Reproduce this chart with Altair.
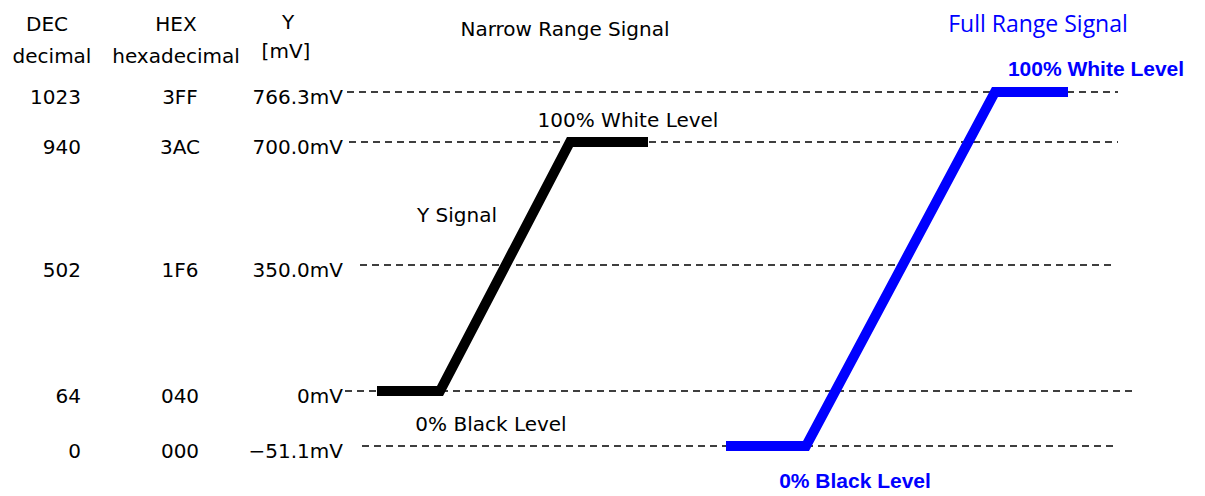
import altair as alt
import pandas as pd

# ---- data ----
level_mv = [766.3, 700.0, 350.0, 0.0, -51.1]
level_dec = ["1023", "940", "502", "64", "0"]
level_hex = ["3FF", "3AC", "1F6", "040", "000"]
level_lbl = ["766.3mV", "700.0mV", "350.0mV", "0mV", "\u221251.1mV"]
guide_start = [347, 349, 360, 345, 362]
guide_end = [1118, 1118, 1115, 1137, 1117]

narrow_t = [377, 440, 570, 648]
narrow_mv = [0.0, 0.0, 700.0, 700.0]
full_t = [726, 806, 995, 1068]
full_mv = [-51.1, -51.1, 766.3, 766.3]

BLUE = "#0000ff"
FONT = "DejaVu Sans"

# schematic (non-linear) vertical placement of the levels
yscale = alt.Scale(domain=[-51.1, 0, 350, 700, 766.3], range=[438, 383, 257, 134, 84])
xscale = alt.Scale(domain=[8, 1197], range=[0, 1189])

levels = pd.DataFrame({"mv": level_mv, "dec": level_dec, "hex": level_hex,
                       "lbl": level_lbl, "xs": guide_start, "xe": guide_end})
wave = pd.DataFrame({
    "t": narrow_t + full_t,
    "mv": narrow_mv + full_mv,
    "sig": ["narrow"] * 4 + ["full"] * 4,
    "i": list(range(4)) * 2,
})

X = lambda f: alt.X(f, type="quantitative", scale=xscale, axis=None)
Y = lambda f: alt.Y(f, type="quantitative", scale=yscale, axis=None)

guides = alt.Chart(levels).mark_rule(color="black", strokeWidth=1.3, strokeDash=[7, 5]).encode(
    x=X("xs"), x2="xe", y=Y("mv"))

lines = alt.Chart(wave).mark_line(strokeWidth=10, strokeCap="butt", strokeJoin="miter").encode(
    x=X("t"), y=Y("mv"), order="i:Q",
    detail="sig:N",
    color=alt.Color("sig:N", scale=alt.Scale(domain=["narrow", "full"], range=["black", BLUE]), legend=None))


def col(field, xval, align):
    d = levels.assign(xp=xval)
    return alt.Chart(d).mark_text(font=FONT, fontSize=20, align=align, baseline="middle", dy=6,
                                  color="black").encode(x=X("xp"), y=Y("mv"), text=f"{field}:N")

dec_col = col("dec", 81, "right")
hex_col = col("hex", 180, "center")
mv_col = col("lbl", 343, "right")

# annotation texts (y given in the schematic mV scale)
ann_text = ["DEC", "decimal", "HEX", "hexadecimal", "Y", "[mV]",
            "Narrow Range Signal", "100% White Level", "Y Signal", "0% Black Level"]
ann_t = [47, 52, 176, 176, 288, 286, 565, 628, 457, 491]
ann_mv = [855, 813, 855, 813, 858, 820, 849, 728, 489, -32]
ann = pd.DataFrame({"txt": ann_text, "t": ann_t, "mv": ann_mv})
ann_chart = alt.Chart(ann).mark_text(font=FONT, fontSize=20, align="center", baseline="middle",
                                     color="black").encode(x=X("t"), y=Y("mv"), text="txt:N")

blue_title = pd.DataFrame({"txt": ["Full Range Signal"], "t": [1038], "mv": [855]})
blue_title_chart = alt.Chart(blue_title).mark_text(font="Open Sans", fontSize=23, align="center",
                                                   baseline="middle", color=BLUE).encode(
    x=X("t"), y=Y("mv"), text="txt:N")

blue_ann = pd.DataFrame({"txt": ["100% White Level", "0% Black Level"], "t": [1096, 855], "mv": [795, -85]})
blue_ann_chart = alt.Chart(blue_ann).mark_text(font="Liberation Sans", fontSize=21, fontWeight="bold",
                                               align="center", baseline="middle", color=BLUE).encode(
    x=X("t"), y=Y("mv"), text="txt:N")

chart = alt.layer(guides, lines, dec_col, hex_col, mv_col, ann_chart, blue_title_chart, blue_ann_chart).properties(
    width=1189, height=480, padding=0
).configure_view(stroke=None)

chart.save("out.html", embed_options={"renderer": "svg", "actions": False})
